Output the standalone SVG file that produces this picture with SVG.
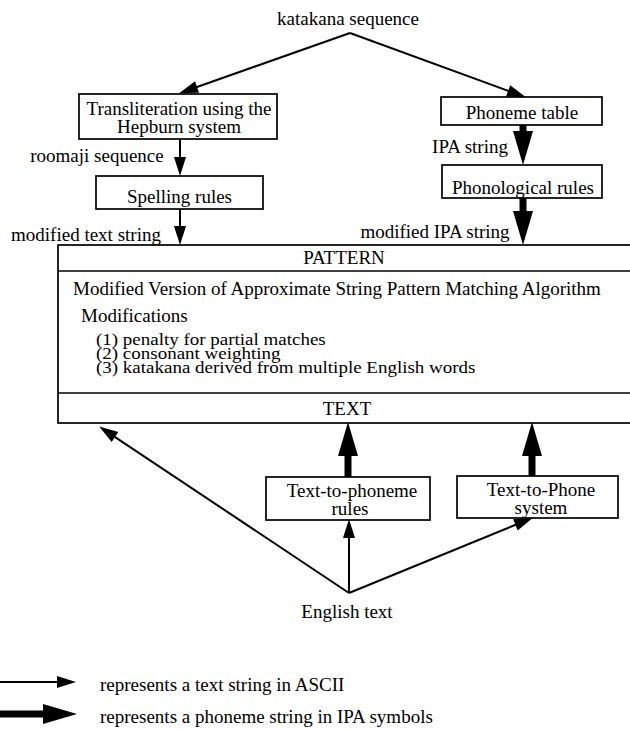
<svg xmlns="http://www.w3.org/2000/svg" width="630" height="729" viewBox="0 0 630 729">
<style>
text{font-family:"Liberation Serif","Times New Roman",serif;font-size:19px;fill:#000}
.c{text-anchor:middle}
.box{fill:#fff;stroke:#000;stroke-width:1.7}
.thin{fill:none;stroke:#000;stroke-width:2;marker-end:url(#ht)}
.thick{fill:none;stroke:#000;stroke-width:7;marker-end:url(#hT)}
</style>
<defs>
<marker id="ht" markerUnits="userSpaceOnUse" markerWidth="20" markerHeight="14" refX="12" refY="6" orient="auto" overflow="visible">
<path d="M0,0 L19,6 L0,12 z" fill="#000"/>
</marker>
<marker id="hT" markerUnits="userSpaceOnUse" markerWidth="36" markerHeight="22" refX="14" refY="10" orient="auto" overflow="visible">
<path d="M0,0 L34,10 L0,20 z" fill="#000"/>
</marker>
</defs>
<rect width="630" height="729" fill="#fff"/>

<g id="connectors">
<path class="thin" d="M350,33 L185.7,91"/>
<path class="thin" d="M350,33 L519.4,94.9"/>
<path class="thin" d="M180,139 L180,169"/>
<path class="thin" d="M180,209 L180,238"/>
<path class="thick" d="M523,125 L523,145"/>
<path class="thick" d="M523,198 L523,225"/>
<path class="thick" d="M348,477 L348,442"/>
<path class="thick" d="M532,476 L532,442"/>
<path class="thin" d="M349,593 L349,526"/>
<path class="thin" d="M349,593 L526.5,520.3"/>
<path class="thin" d="M349,593 L105,430.3"/>
</g>

<g id="katakana"><text class="c" x="348" y="25">katakana sequence</text></g>

<g id="transliteration">
<rect class="box" x="79" y="94" width="198" height="45"/>
<text class="c" x="179" y="115">Transliteration using the</text>
<text class="c" x="179" y="133">Hepburn system</text>
</g>
<g id="roomaji"><text class="c" x="97" y="162">roomaji sequence</text></g>
<g id="spelling">
<rect class="box" x="96" y="176" width="167" height="33"/>
<text class="c" x="179.5" y="203">Spelling rules</text>
</g>
<g id="modtext"><text class="c" x="86" y="241">modified text string</text></g>

<g id="phonemetable">
<rect class="box" x="441" y="97" width="161" height="28"/>
<text class="c" x="522" y="119">Phoneme table</text>
</g>
<g id="ipastring"><text class="c" x="470" y="153">IPA string</text></g>
<g id="phonological">
<rect class="box" x="442" y="165" width="160" height="33"/>
<text class="c" x="523" y="194">Phonological rules</text>
</g>
<g id="modipa"><text class="c" x="435" y="238">modified IPA string</text></g>

<g id="matcher">
<rect class="box" x="58" y="245" width="600" height="178" fill="none"/>
<line x1="58" y1="271" x2="630" y2="271" stroke="#000" stroke-width="1.7"/>
<line x1="58" y1="393" x2="630" y2="393" stroke="#000" stroke-width="1.7"/>
<text class="c" x="344" y="264">PATTERN</text>
<text x="73" y="295">Modified Version of Approximate String Pattern Matching Algorithm</text>
<text x="81" y="322">Modifications</text>
<text transform="translate(96,345) scale(1,0.88)">(1) penalty for partial matches</text>
<text transform="translate(96,359) scale(1,0.88)">(2) consonant weighting</text>
<text transform="translate(96,373) scale(1,0.88)">(3) katakana derived from multiple English words</text>
<text class="c" x="347" y="415">TEXT</text>
</g>

<g id="textphoneme">
<rect class="box" x="266" y="477" width="164" height="43"/>
<text class="c" x="352" y="497">Text-to-phoneme</text>
<text class="c" x="350" y="515">rules</text>
</g>
<g id="textphone">
<rect class="box" x="457" y="476" width="161" height="42"/>
<text class="c" x="541" y="496">Text-to-Phone</text>
<text class="c" x="541" y="514">system</text>
</g>
<g id="english"><text class="c" x="347" y="618">English text</text></g>

<g id="legend">
<path class="thin" d="M0,682 L69,682"/>
<text x="100" y="691">represents a text string in ASCII</text>
<path class="thick" d="M0,714 L57,714"/>
<text x="100" y="723">represents a phoneme string in IPA symbols</text>
</g>
</svg>
